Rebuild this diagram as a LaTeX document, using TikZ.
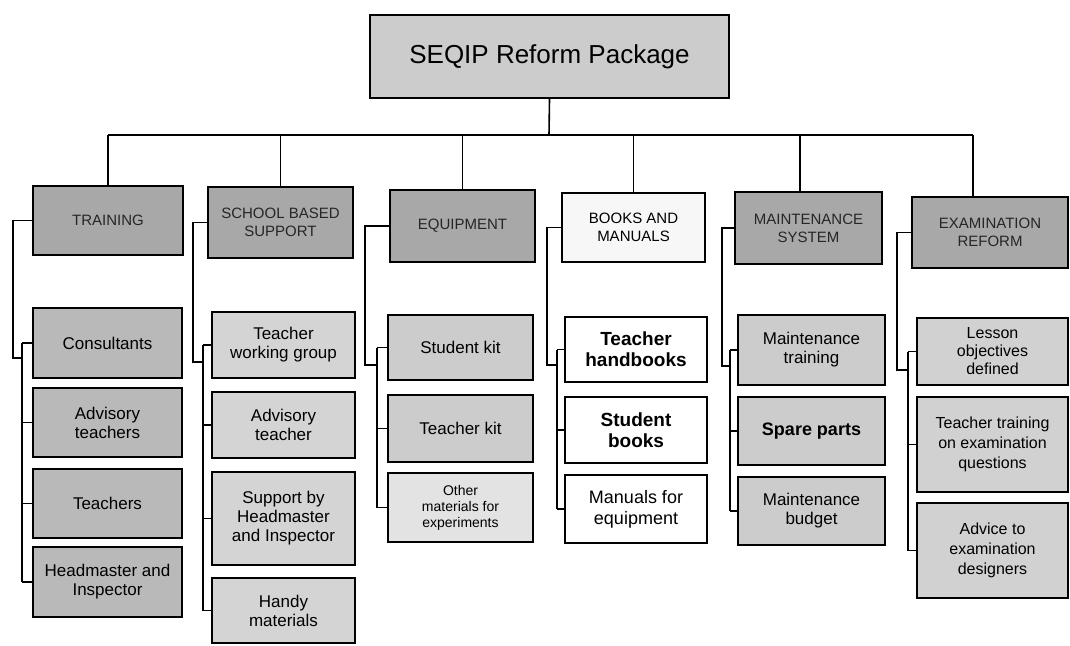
\documentclass[tikz,border=0pt]{standalone}
\usepackage{fontspec}
\setmainfont{Liberation Sans}
\begin{document}
\begin{tikzpicture}[x=1pt, y=-1pt,
  conn/.style={line width=1.6pt},
  box/.style={draw, rectangle, line width=1.8pt, align=center, inner sep=1pt, font=\fontsize{17}{19}\selectfont},
  dark/.style={box, fill=gray!68, text=black!85, font=\fontsize{15}{18}\selectfont},
  leaf/.style={box, fill=gray!40}]
\useasboundingbox (0,0) rectangle (1070,645);

\node[box, fill=gray!40, minimum width=359, minimum height=83, font=\fontsize{26}{30}\selectfont] (r) at (549.5,56.5) {SEQIP Reform Package};

% heads
\node[dark, minimum width=150, minimum height=69] (h1) at (108,220.5) {TRAINING};
\node[dark, minimum width=145, minimum height=71] (h2) at (280.5,222.5) {SCHOOL BASED\\SUPPORT};
\node[dark, minimum width=145, minimum height=72] (h3) at (462.5,226) {EQUIPMENT};
\node[box, fill=gray!6, minimum width=143, minimum height=69, font=\fontsize{15}{18}\selectfont] (h4) at (633.5,227.5) {BOOKS AND\\MANUALS};
\node[dark, minimum width=147, minimum height=72] (h5) at (808.5,228) {MAINTENANCE\\SYSTEM};
\node[dark, minimum width=156, minimum height=71] (h6) at (990,232.5) {EXAMINATION\\REFORM};

\coordinate (bus) at (549,135);
\coordinate (d5) at (800,135);
\coordinate (d6) at (973,135);
\draw[conn] (r.south) -- (bus);
\draw[conn] (h1.north |- bus) -- (d6);
\foreach \i in {1,...,4}
  \draw[conn] (h\i.north) -- (h\i.north |- bus);
\draw[conn] (d5) -- (d5 |- h5.north);
\draw[conn] (d6) -- (d6 |- h6.north);

% training
\node[leaf, fill=gray!55, minimum width=149, minimum height=70] (l11) at (107.5,343) {Consultants};
\node[leaf, fill=gray!55, minimum width=149, minimum height=69] (l12) at (107.5,422.5) {Advisory\\teachers};
\node[leaf, fill=gray!55, minimum width=149, minimum height=69] (l13) at (107.5,503.5) {Teachers};
\node[leaf, fill=gray!55, minimum width=149, minimum height=70] (l14) at (107.5,582) {Headmaster and\\Inspector};

% support
\node[leaf, fill=gray!34, minimum width=143, minimum height=66] (l21) at (283.5,345) {Teacher\\working group};
\node[leaf, fill=gray!34, minimum width=143, minimum height=66] (l22) at (283.5,425) {Advisory\\teacher};
\node[leaf, fill=gray!34, minimum width=143, minimum height=93] (l23) at (283.5,518.5) {Support by\\Headmaster\\and Inspector};
\node[leaf, fill=gray!34, minimum width=143, minimum height=65] (l24) at (283.5,610.5) {Handy\\materials};

% equipment
\node[leaf, minimum width=145, minimum height=65] (l31) at (460.5,347.5) {Student kit};
\node[leaf, minimum width=145, minimum height=67] (l32) at (460.5,428.5) {Teacher kit};
\node[leaf, fill=gray!22, minimum width=145, minimum height=69, font=\fontsize{14}{16}\selectfont] (l33) at (460.5,507.5) {Other\\materials for\\experiments};

% books
\node[box, fill=white, minimum width=142, minimum height=65, font=\fontsize{19}{21}\selectfont\bfseries] (l41) at (636,349.5) {Teacher\\handbooks};
\node[box, fill=white, minimum width=142, minimum height=66, font=\fontsize{19}{21}\selectfont\bfseries] (l42) at (636,430) {Student\\books};
\node[box, fill=white, minimum width=142, minimum height=68, font=\fontsize{18}{21}\selectfont] (l43) at (636,509) {Manuals for\\equipment};

% maintenance
\node[leaf, minimum width=147, minimum height=70] (l51) at (811.5,350) {Maintenance\\training};
\node[leaf, minimum width=147, minimum height=68, font=\fontsize{18}{20}\selectfont\bfseries] (l52) at (811.5,431) {Spare parts};
\node[leaf, minimum width=147, minimum height=68] (l53) at (811.5,511) {Maintenance\\budget};

% examination
\node[leaf, fill=gray!36, minimum width=151, minimum height=67, font=\fontsize{16}{18}\selectfont] (l61) at (992.5,351.5) {Lesson\\objectives\\defined};
\node[leaf, fill=gray!36, minimum width=151, minimum height=95, font=\fontsize{16}{20}\selectfont] (l62) at (992.5,444.5) {Teacher training\\on examination\\questions};
\node[leaf, fill=gray!36, minimum width=151, minimum height=95, font=\fontsize{16}{20}\selectfont] (l63) at (992.5,550.5) {Advice to\\examination\\designers};

% spines
\coordinate (k1) at (13,358);  \coordinate (s1) at (22,358);
\coordinate (k2) at (193,362); \coordinate (s2) at (203,362);
\coordinate (k3) at (365,365); \coordinate (s3) at (377,365);
\coordinate (k4) at (547,365); \coordinate (s4) at (557,365);
\coordinate (k5) at (722,366); \coordinate (s5) at (730,366);
\coordinate (k6) at (897,370); \coordinate (s6) at (908,370);

\foreach \i/\n in {1/4, 2/4, 3/3, 4/3, 5/3, 6/3} {
  \draw[conn] (h\i.west) -| (k\i) -- (s\i);
  \draw[conn] (l\i1.west -| s\i) -- (l\i\n.west -| s\i);
  \foreach \j in {1,...,\n}
    \draw[conn] (l\i\j.west -| s\i) -- (l\i\j.west);
}
\end{tikzpicture}
\end{document}
